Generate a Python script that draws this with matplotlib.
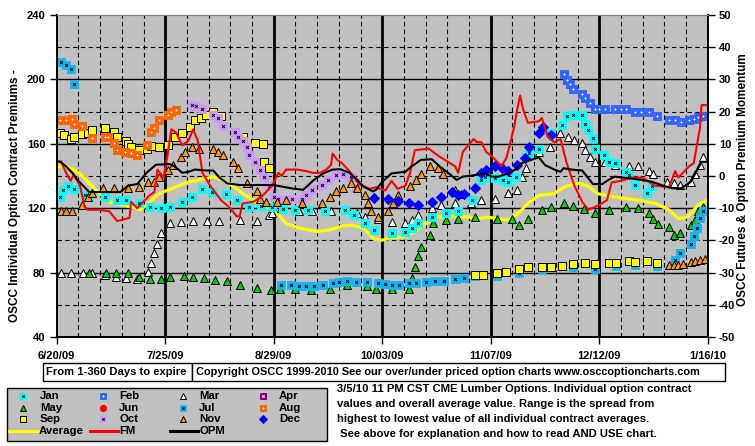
import matplotlib
matplotlib.use("Agg")
import matplotlib.pyplot as plt
from matplotlib.patches import Rectangle

plt.rcParams["font.family"] = ["Liberation Sans", "DejaVu Sans"]
plt.rcParams["font.weight"] = "bold"
plt.rcParams["font.size"] = 8
plt.rcParams["axes.unicode_minus"] = False

TXT = 7.9   # size of the boxed texts

# x positions are days since 6/20/09
X_TICKS = [0, 35, 70, 105, 140, 175, 210]
X_LABELS = ["6/20/09", "7/25/09", "8/29/09", "10/03/09", "11/07/09", "12/12/09", "1/16/10"]
LEFT_TICKS = [40, 80, 120, 160, 200, 240]
RIGHT_TICKS = list(range(-50, 51, 10))

# individual contract premiums (left axis), (day, value)
jan = [(1, 127), (2, 131), (3.5, 134), (5.5, 132), (9, 128), (10.5, 127), (15.5, 127), (19.5, 125),
       (22.5, 125), (26.5, 123), (30, 121), (33.5, 120), (36.5, 121), (40.5, 124), (43.5, 127),
       (47, 132), (50, 130), (54.5, 129), (58, 125), (62, 120.5), (66, 121.5), (69.5, 121),
       (73, 119.5), (77, 119), (81, 119), (86.5, 118), (93, 119), (96, 116), (99.5, 110.5),
       (102.5, 106.5), (108, 104.5), (112.5, 105.5), (114.5, 107.5), (116.5, 110.5), (121, 114.5),
       (125.5, 117), (129.5, 118), (134, 125), (137, 137.5), (138, 139.5), (141.5, 138.5),
       (144, 137.5), (145.5, 136.5), (148, 139.5), (151.5, 152), (152.5, 154), (155.5, 157),
       (159.5, 166.5), (163, 171.5), (164.5, 177), (166.5, 178), (169.5, 178), (170.5, 172),
       (171.5, 168.5), (173, 163.5), (173.5, 157), (176.5, 153), (178, 149), (180, 148),
       (183.5, 142.5), (184.5, 140.5), (186.5, 134.5), (190.5, 129.5), (192, 133.5)]
feb = [(163.5, 203.5), (164.5, 199.5), (165.5, 197), (166.5, 194), (169.5, 191), (170.5, 188.5),
       (172, 185.5), (173.5, 181.5), (175, 181.5), (177, 181.5), (180, 181.5), (182, 181.5),
       (183.5, 181.5), (186.5, 180), (188.5, 179.5), (191, 179.5), (193.5, 177), (197.5, 175),
       (199.5, 175), (201.5, 173.5), (204, 174.5), (205.5, 175.5), (207, 176.5), (208.5, 177)]
mar = [(1.5, 79.5), (4.5, 79.5), (8.5, 79.5), (11.5, 79.5), (15.5, 78.5), (19, 77.5), (22.5, 76.5),
       (26, 76), (29.5, 80.5), (30.5, 86), (31.5, 92), (32.5, 98), (33.5, 104.5), (36.5, 110.5),
       (40, 111.5), (44, 112), (48.5, 112), (52.5, 112), (59, 112.5), (64.5, 112), (68.5, 115.5),
       (69.5, 117), (72.5, 120), (78, 118), (82.5, 118), (88.5, 118), (94, 119), (97, 117),
       (99.5, 114.5), (103.5, 113.5), (108, 111.5), (112.5, 110.5), (114.5, 112.5), (116.5, 115.5),
       (121, 120), (124, 122), (128.5, 123.5), (133.5, 123.5), (137, 125), (141.5, 126),
       (145.5, 129.5), (148.5, 131.5), (150, 139.5), (151.5, 145), (155.5, 155), (159, 158),
       (162.5, 166.5), (165, 164.5), (167, 162.5), (169.5, 160.5), (170.5, 156), (172, 152),
       (173.5, 149), (177, 148.5), (180, 147), (184.5, 146.5), (187.5, 146), (191, 143),
       (192.5, 141.5), (197, 136.5), (199, 135.5), (201, 134.5), (204.5, 136.5), (206, 141.5),
       (207.5, 147), (208.5, 152)]
may = [(10.5, 79.5), (16, 79.5), (19, 80), (23, 79.5), (26.5, 77.5), (30, 76), (33.5, 76),
       (36.5, 77.5), (41, 78), (44, 77.5), (47.5, 76.5), (51, 75.5), (55, 74.5), (59, 72.5),
       (64.5, 70.5), (69, 69), (72, 70), (77, 70), (82, 69.5), (88, 70), (93.5, 72), (100, 71.5),
       (103, 70), (108, 70), (113.5, 70), (114.5, 76.5), (115.5, 83.5), (116.5, 90), (117.5, 96),
       (120.5, 103.5), (121.5, 110.5), (125.5, 112.5), (129.5, 113), (135, 114.5), (142, 113),
       (147, 113), (149, 109.5), (152, 113.5), (156.5, 119), (159.5, 121), (163.5, 123.5),
       (166.5, 121.5), (170, 119.5), (173.5, 117), (178, 119), (183.5, 121), (187.5, 120),
       (191, 117), (192.5, 113), (194, 110), (197.5, 108.5), (199, 103.5), (201, 104.5),
       (204.5, 109.5), (206, 112.5), (207, 118), (208.5, 121)]
jul = [(1.5, 211), (3, 209), (4.5, 206.5), (5.5, 197), (72.5, 72), (75.5, 72), (78, 71.5),
       (80.5, 71.5), (83, 71.5), (86, 72), (89, 73.5), (91, 74), (93.5, 74.5), (96.5, 74),
       (100, 74), (103.5, 73.5), (106, 73), (108, 72.5), (110.5, 72.5), (113.5, 73.5), (116, 73.5),
       (119, 74), (122, 74.5), (125, 75), (128.5, 76), (131.5, 76.5), (135, 78), (142, 78),
       (149, 80), (156.5, 82), (166.5, 83.5), (173.5, 82), (180.5, 84), (186.5, 84.5), (193.5, 84),
       (199.5, 88), (201, 92), (204.5, 98), (205.5, 103), (206.5, 108), (207.5, 114), (208.5, 118)]
aug = [(1, 175), (3, 175), (5, 175.5), (5.5, 172.5), (8, 171), (11.5, 163.5), (15.5, 164),
       (16.5, 164.5), (18.5, 160.5), (19.5, 156), (22, 155), (24, 154), (26, 153), (29, 159.5),
       (30.5, 167.5), (31.5, 170), (33, 175), (36, 178), (37, 179.5), (38.5, 181)]
sep = [(1, 167), (2.5, 165.5), (4.5, 163), (5.5, 164), (8, 166), (10, 167), (11.5, 168.5),
       (15.5, 169.5), (18.5, 167.5), (19.5, 164), (22.5, 162), (23, 160), (24, 158), (26.5, 156),
       (29, 157), (30.5, 158.5), (33, 158), (36, 159.5), (38, 164.5), (40.5, 167), (43, 170.5),
       (44.5, 174.5), (46.5, 176), (48, 178), (50.5, 180), (53, 177), (57.5, 167.5), (60, 164.5),
       (64, 160.5), (66.5, 160), (67, 149), (68.5, 145), (135, 78.5), (137.5, 78.5), (142, 79.5),
       (145, 80.5), (149, 82), (152, 83.5), (156.5, 83.5), (159.5, 83.5), (163, 84), (166.5, 85.5),
       (170.5, 86), (173.5, 85.5), (178, 86), (180.5, 86), (184.5, 87), (186.5, 86.5), (190.5, 87),
       (193.5, 86)]
octo = [(43.5, 184), (45, 183.5), (47, 181.5), (50.5, 178), (52, 176), (53.5, 171), (57.5, 167.5),
        (58.5, 164.5), (60, 161.5), (61.5, 158), (62, 153), (64, 148.5), (65.5, 143.5),
        (67, 139.5), (68.5, 133.5), (70, 127), (71.5, 126), (74, 125), (76, 125.5), (79, 126),
        (80.5, 128), (82.5, 131.5), (85.5, 134.5), (87.5, 137.5), (90, 140.5), (92.5, 141.5),
        (95, 139.5), (96.5, 132.5)]
nov = [(1.5, 118), (3, 118), (5, 118), (8, 122), (10, 127), (11.5, 129.5), (15, 132.5),
       (18.5, 132.5), (23, 132.5), (26.5, 133), (29.5, 136), (31.5, 136.5), (33, 139.5),
       (36, 143.5), (37.5, 147), (40, 152), (41.5, 155), (43.5, 158), (46, 157), (50.5, 157),
       (52, 155), (53.5, 153), (57, 149), (58.5, 145), (61.5, 135.5), (64.5, 130.5), (65.5, 126),
       (67.5, 124), (71, 124), (74, 125), (79, 123), (85.5, 123), (88, 127), (90, 130.5),
       (92.5, 132.5), (95, 135.5), (97, 132.5), (99.5, 128), (100.5, 123), (101.5, 118),
       (103.5, 114.5), (107, 118), (108.5, 123), (110, 128), (114, 133.5), (116, 137.5),
       (117.5, 141.5), (120.5, 146), (123, 145), (124.5, 141.5), (128.5, 131.5), (130.5, 129),
       (197.5, 84.5), (199, 84.5), (200.5, 85), (202, 85.5), (204.5, 86.5), (206, 87), (207.5, 88),
       (209, 88.5)]
dec = [(102.5, 126.5), (107, 126), (110, 124.5), (113.5, 123.5), (116.5, 122), (121, 124),
       (124, 127), (127.5, 130), (129.5, 128.5), (131.5, 129), (135, 132.5), (137, 142),
       (138.5, 143.5), (141.5, 146), (143.5, 145), (145.5, 143), (148.5, 147), (151, 151),
       (152.5, 158), (155.5, 166.5), (157, 170.5), (159.5, 165.5)]

# overall average (left axis)
average = [(0, 145), (1.5, 146.5), (4.5, 145), (7.5, 141.5), (9.5, 137.5), (12, 132.5), (14, 129),
           (17, 124), (20.5, 122.5), (24.5, 120.5), (27, 119), (29, 122), (33, 129), (37.5, 132.5),
           (42, 136), (46, 137.5), (50.5, 139.5), (53.5, 137.5), (57, 133.5), (60, 129),
           (63.5, 125), (66.5, 122), (69, 119), (71, 117), (74, 110.5), (78.5, 107.5), (84, 105.5),
           (88, 106.5), (92.5, 109), (95.5, 109.5), (99, 107.5), (102, 101.5), (104.5, 100),
           (108, 101.5), (112.5, 102.5), (115.5, 105.5), (119, 110.5), (123, 114.5), (128.5, 115),
           (133, 114.5), (136, 113.5), (139, 114.5), (145.5, 112.5), (149, 117), (152, 123),
           (155.5, 128), (160.5, 129), (164, 133.5), (168.5, 135.5), (171.5, 133.5), (174.5, 129),
           (180, 127), (187.5, 125), (193, 123), (197.5, 119), (200.5, 113.5), (203.5, 114.5),
           (207, 122), (210, 125)]

# momentum lines (right axis)
fm = [(0, 4.5), (1.5, 4.5), (3, 1), (4.5, -1.5), (5.5, 0.5), (7.5, -3), (9, -9.5), (10, -10.5),
      (14, -10.5), (17, -11), (19.5, -14), (23.5, -13), (24, -8), (26, -10), (30, -6), (31.5, -5),
      (32.5, 2), (34.5, -0.5), (35.5, 5), (37, 14.5), (38.5, 13.5), (40.5, 9.5), (42.5, 11),
      (44, 14.5), (45.5, 11), (47, 1), (49.5, -3), (53, -7.5), (56, -10), (58, -12.5),
      (59, -12.5), (60, -8.5), (63.5, -8), (66, -6.5), (69.5, -3), (71.5, 1), (72.5, 0), (74, 2),
      (77.5, 2), (80.5, 1.5), (82.5, 1), (85, 1), (87, 2), (88.5, 3.5), (89, 7), (90.5, 5),
      (92, 4), (94, 2), (97.5, -2.5), (101, -4), (103, -3.5), (106, -4.5), (108, -1.5),
      (110, -4), (112.5, -3), (114, 1), (115.5, 8), (120, 8.5), (123.5, 6), (128.5, 3),
      (129.5, 1), (131, 7.5), (134.5, 11.5), (135.5, 10.5), (137, 10.5), (138.5, 7.5), (140.5, 6),
      (143.5, 3), (145, 5.5), (146, 9), (147.5, 15), (148.5, 20.5), (149.5, 25), (150.5, 20.5),
      (152, 16.5), (155.5, 17), (156.5, 18), (158.5, 12), (160.5, 10.5), (162.5, 11.5),
      (164.5, 4), (167, -3), (169.5, -8), (171.5, -10.5), (175, -9), (177.5, -7.5), (179, -2),
      (182, -1.5), (185.5, -0.5), (189, -0.5), (193, -3), (197.5, -3.5), (199.5, 1.5),
      (200.5, -0.5), (204, 3), (205.5, 4), (207.5, 15), (208, 22), (210, 22)]
opm = [(0, 4.5), (1, 4.5), (3, 3), (5, 1), (6.5, -1), (8.5, -3), (10.5, -5), (14, -5),
       (20.5, -5), (23, -3), (26, -2.5), (29, 1), (32, 3.5), (36.5, 3.7), (38, 3), (40.5, 1),
       (42.5, 1.3), (44.5, 2), (48.5, 1.7), (50.5, 1.7), (52.5, -0.5), (55, -2.3), (59, -2.8),
       (70, -2.8), (75.5, -3.8), (79.5, -4.3), (83, -1.2), (86, 0.8), (89, 2), (91.5, 2.1),
       (94.5, 1), (97, -1.2), (99, -3.3), (102, -4.8), (103, -4.3), (105, -1.8), (108, 0.8),
       (112.5, 1.3), (114.5, 3), (117.5, 5), (121, 5.2), (123.5, 3), (126.5, 0.8), (129, -1.2),
       (131, -0.2), (135, 0.3), (138, 0.8), (140.5, -0.2), (142.5, -0.2), (145.5, 0.8), (148, 2),
       (150, 4), (153, 5), (155.5, 5.8), (157.5, 3.4), (160.5, 2), (162.5, 1.3), (163.5, 2.4),
       (166, 2), (169.5, 1.7), (171.5, -0.7), (173, -2.5), (176, -2.5), (178, -1.2), (180, -0.2),
       (184.5, -0.7), (188.5, -1.2), (192, -1.8), (195, -2.8), (198.5, -3.8), (201.5, -3.8),
       (204.5, -1.8), (206, 0.8), (208, 4.4), (210, 4.4)]

# marker look per contract month: marker, face, edge, inner glyph, glyph colour
STYLE = {
    "Jan": ("s", "#00FFFF", "#00FFFF", "x", "black"),
    "Feb": ("s", "#3366FF", "#3366FF", "+", "white"),
    "Mar": ("^", "white", "black", None, None),
    "Apr": ("s", "#800080", "#800080", "x", "white"),
    "May": ("^", "#00CC00", "black", None, None),
    "Jun": ("o", "#FF0000", "#FF0000", None, None),
    "Jul": ("s", "#18B4F0", "#18B4F0", "x", "black"),
    "Aug": ("s", "#FF6600", "#FF6600", "+", "white"),
    "Sep": ("s", "#FFFF00", "black", None, None),
    "Oct": ("s", "#CC99FF", "#CC99FF", "x", "black"),
    "Nov": ("^", "#FF9900", "black", None, None),
    "Dec": ("D", "#0000FF", "#0000FF", None, None),
}


def marks(axis, x, y, name, ms=5.5):
    m, fc, ec, g, gc = STYLE[name]
    size = ms * 0.85 if m == "D" else ms
    axis.plot(x, y, ls="none", marker=m, ms=size, mfc=fc, mec=ec, mew=0.7)
    if g:
        axis.plot(x, y, ls="none", marker=g, ms=ms * 0.38, mec=gc, mew=0.7)


fig = plt.figure(figsize=(7.55, 4.46), dpi=100)
ax = fig.add_axes([0.0751, 0.2444, 0.8623, 0.722])
ax.set_facecolor("#C0C0C0")
ax.set_xlim(0, 210)
ax.set_ylim(40, 240)

for d in range(7, 210, 7):
    if d % 35:
        ax.axvline(d, color="black", lw=0.8, ls=(0, (4, 3)), zorder=1)
    else:
        ax.axvline(d, color="black", lw=2, zorder=1)
for v in range(60, 240, 20):
    if v % 40:
        ax.axhline(v, color="black", lw=0.8, ls=(0, (4, 3)), zorder=1)
    else:
        ax.axhline(v, color="black", lw=1, zorder=1)

xs = lambda pts: [p[0] for p in pts]
ys = lambda pts: [p[1] for p in pts]

ax.plot(xs(average), ys(average), color="#FFFF00", lw=2.3, zorder=2)
for name, pts in [("Mar", mar), ("May", may), ("Jul", jul), ("Jan", jan), ("Sep", sep),
                  ("Aug", aug), ("Oct", octo), ("Nov", nov), ("Feb", feb), ("Dec", dec)]:
    marks(ax, xs(pts), ys(pts), name)

ax.set_xticks(X_TICKS)
ax.set_xticklabels(X_LABELS)
ax.set_yticks(LEFT_TICKS)
ax.tick_params(direction="out", length=5, width=1, labelsize=8, pad=3)
ax.tick_params(axis="x", pad=5)

ax2 = ax.twinx()
ax2.set_ylim(-50, 50)
ax2.plot(xs(fm), ys(fm), color="#FF0000", lw=1.5)
ax2.plot(xs(opm), ys(opm), color="black", lw=1.5)
ax2.set_yticks(RIGHT_TICKS)
ax2.tick_params(direction="out", length=5, width=1, labelsize=8, pad=3)
for a in (ax, ax2):
    a.spines["top"].set_color("#808080")
    for s in ("left", "right", "bottom"):
        a.spines[s].set_linewidth(1.2)

# layout layer in pixel units for labels, boxes and legend
lay = fig.add_axes([0, 0, 1, 1])
lay.set_xlim(0, 755)
lay.set_ylim(446, 0)
lay.axis("off")

lay.text(15, 196, "OSCC Individual Option Contract Premiums -", rotation=90,
         ha="center", va="center", fontsize=8.5)
lay.text(743, 180, "OSCC Futures & Option Premium Momentum", rotation=90,
         ha="center", va="center", fontsize=8.5)

lay.add_patch(Rectangle((43, 363), 149, 18, fc="white", ec="black", lw=1))
lay.add_patch(Rectangle((192, 363), 533, 18, fc="white", ec="black", lw=1))
lay.text(46, 372, "From 1-360 Days to expire", va="center", fontsize=8.1)
lay.text(196, 372, "Copyright OSCC 1999-2010 See our over/under priced option charts "
         "www.osccoptioncharts.com", va="center", fontsize=TXT)

lay.add_patch(Rectangle((7, 388), 320, 53, fc="#C0C0C0", ec="black", lw=1))
rows = [["Jan", "Feb", "Mar", "Apr"], ["May", "Jun", "Jul", "Aug"], ["Sep", "Oct", "Nov", "Dec"]]
col_mark = [23, 103, 183, 263]
col_text = [40, 119, 199, 279]
row_y = [396, 408, 419]
for r, names in enumerate(rows):
    for c, name in enumerate(names):
        marks(lay, [col_mark[c]], [row_y[r]], name, ms=4.5)
        lay.text(col_text[c], row_y[r], name, va="center", fontsize=8.2)
for (x0, x1), col, label in [((9, 38), "#FFFF00", "Average"), ((90, 118), "#FF0000", "FM"),
                             ((170, 198), "black", "OPM")]:
    lay.plot([x0, x1], [431, 431], color=col, lw=2.2)
    lay.text(x1 + 1, 431, label, va="center", fontsize=8.2)

notes = ["3/5/10 11 PM CST CME Lumber Options. Individual option contract",
         "values and overall average value. Range is the spread from",
         "highest to lowest value of all individual contract averages.",
         " See above for explanation and how to read AND USE chart."]
for i, line in enumerate(notes):
    lay.text(337, 389 + 15 * i, line, va="center", fontsize=8.1)

fig.savefig("out.png", dpi=100)
